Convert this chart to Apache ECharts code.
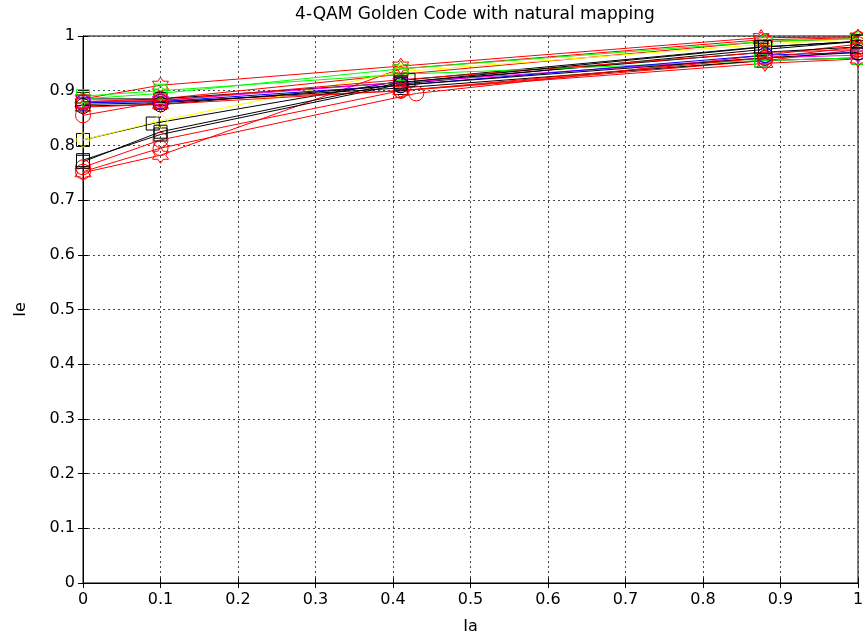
<!DOCTYPE html>
<html>
<head>
<meta charset="utf-8">
<script src="https://cdn.jsdelivr.net/npm/echarts@6/dist/echarts.min.js"></script>
<style>
  html, body { margin: 0; padding: 0; background: #fff; }
  #chart { width: 863px; height: 637px; }
</style>
</head>
<body>
<div id="chart"></div>
<script>
// 数据：每条曲线的 Ia / Ie 点
let iaValues = [
    [0, 0.1, 0.41, 0.875, 1],
    [0, 0.1, 0.41, 0.875, 1],
    [0, 0.1, 0.43, 0.88, 1],
    [0, 0.1, 0.41, 0.88, 1],
    [0, 0.1, 0.41, 0.88, 1],
    [0, 0.1, 0.41, 0.875, 1],
    [0, 0.09, 0.42, 0.875, 1],
    [0, 0.1, 0.41, 0.88, 1],
    [0, 0.1, 0.41, 0.875, 1],
    [0, 0.1, 0.41, 0.875, 1],
    [0, 0.1, 0.41, 0.875, 1],
    [0, 0.1, 0.41, 0.88, 1],
    [0, 0.1, 0.41, 0.88, 1],
    [0, 0.1, 0.41, 0.88, 1],
    [0, 0.1, 0.41, 0.88, 1],
    [0, 0.1, 0.41, 0.88, 1],
    [0, 0.1, 0.41, 0.88, 1],
    [0, 0.1, 0.41, 0.88, 1],
    [0, 0.1, 0.41, 0.88, 1]
]
let ieValues = [
    [0.885, 0.91, 0.945, 0.997, 0.998],
    [0.75, 0.782, 0.94, 0.993, 0.997],
    [0.752, 0.795, 0.895, 0.965, 0.985],
    [0.855, 0.88, 0.9, 0.955, 0.975],
    [0.88, 0.885, 0.93, 0.99, 0.995],
    [0.773, 0.82, 0.912, 0.975, 0.99],
    [0.81, 0.84, 0.92, 0.98, 0.99],
    [0.81, 0.845, 0.935, 0.985, 0.995],
    [0.875, 0.878, 0.905, 0.955, 0.96],
    [0.885, 0.885, 0.915, 0.97, 0.98],
    [0.89, 0.9, 0.93, 0.955, 0.96],
    [0.885, 0.895, 0.94, 0.99, 0.995],
    [0.878, 0.882, 0.915, 0.96, 0.965],
    [0.878, 0.88, 0.91, 0.965, 0.97],
    [0.88, 0.882, 0.92, 0.97, 0.975],
    [0.872, 0.875, 0.91, 0.96, 0.97],
    [0.87, 0.875, 0.9, 0.95, 0.958],
    [0.76, 0.81, 0.9, 0.96, 0.98],
    [0.77, 0.825, 0.915, 0.98, 0.99]
]
let curveColors = ['#ff0000', '#ff0000', '#ff0000', '#ff0000', '#ff0000', '#000000', '#000000', '#ffff00', '#000000', '#000000',
    '#00ff00', '#00ff00', '#ff00ff', '#0000ff', '#ff0000', '#000000', '#ff0000', '#ff0000', '#000000']
let curveMarkers = ['hex', 'hex', 'circle', 'circle', 'circle', 'rect', 'rect', 'diamond', 'rect', 'rect',
    'rect', 'hex', 'hex', 'circle', 'rect', 'circle', 'hex', 'circle', 'rect']

// 六角星
let hexPath = 'path://M100 0 L128.9 50 L186.6 50 L157.7 100 L186.6 150 L128.9 150 L100 200 L71.1 150 L13.4 150 L42.3 100 L13.4 50 L71.1 50 Z'
let markerSize = { hex: 16, circle: 15, rect: 13, diamond: 15 }

let series = []
iaValues.forEach(function (ia, i) {
    let pts = ia.map(function (x, j) { return [x, ieValues[i][j]] })
    let m = curveMarkers[i]
    series.push({
        type: 'line',
        data: pts,
        symbol: m == 'hex' ? hexPath : m,
        symbolSize: markerSize[m],
        showAllSymbol: true,
        lineStyle: { color: curveColors[i], width: 1 },
        itemStyle: { color: 'rgba(0,0,0,0)', borderColor: curveColors[i], borderWidth: 1 },
        emphasis: { disabled: true },
        clip: false,
        z: 3
    })
})

let font = 'DejaVu Sans, Liberation Sans, sans-serif'
let gridLine = { show: true, lineStyle: { color: '#444', type: [2, 3], width: 1 } }

let baseAxis = {
    min: 0, max: 1, interval: 0.1,
    axisLine: { show: true, lineStyle: { color: '#000', width: 1 } },
    axisTick: { show: true, inside: true, length: 5, lineStyle: { color: '#000' } },
    axisLabel: { color: '#000', fontSize: 16, fontFamily: font },
    splitLine: gridLine
}

let myChart = echarts.init(document.getElementById('chart'))
let option = {
    animation: false,
    backgroundColor: '#fff',
    title: {
        text: '4-QAM Golden Code with natural mapping',
        left: 470, top: 1, textAlign: 'center',
        textStyle: { fontSize: 17, fontWeight: 'normal', color: '#000', fontFamily: font }
    },
    grid: { left: 83, right: 5, top: 36, bottom: 54, show: true, borderColor: '#000', borderWidth: 1,
        backgroundColor: 'rgba(0,0,0,0)', outerBoundsMode: 'none', containLabel: false },
    xAxis: [
        Object.assign({}, baseAxis, {
            type: 'value', position: 'bottom',
            name: 'Ia', nameLocation: 'middle', nameGap: 36,
            nameTextStyle: { fontSize: 16, color: '#000', fontFamily: font },
            axisLabel: { color: '#000', fontSize: 16, fontFamily: font, margin: 9 }
        }),
        Object.assign({}, baseAxis, {
            type: 'value', position: 'top',
            axisLabel: { show: false }, splitLine: { show: false }
        })
    ],
    yAxis: [
        Object.assign({}, baseAxis, {
            type: 'value', position: 'left',
            name: 'Ie', nameLocation: 'middle', nameGap: 54,
            nameTextStyle: { fontSize: 16, color: '#000', fontFamily: font },
            axisLabel: { color: '#000', fontSize: 16, fontFamily: font, margin: 8 }
        }),
        Object.assign({}, baseAxis, {
            type: 'value', position: 'right',
            axisLabel: { show: false }, splitLine: { show: false }
        })
    ],
    series: series
}
myChart.setOption(option)
</script>
</body>
</html>
